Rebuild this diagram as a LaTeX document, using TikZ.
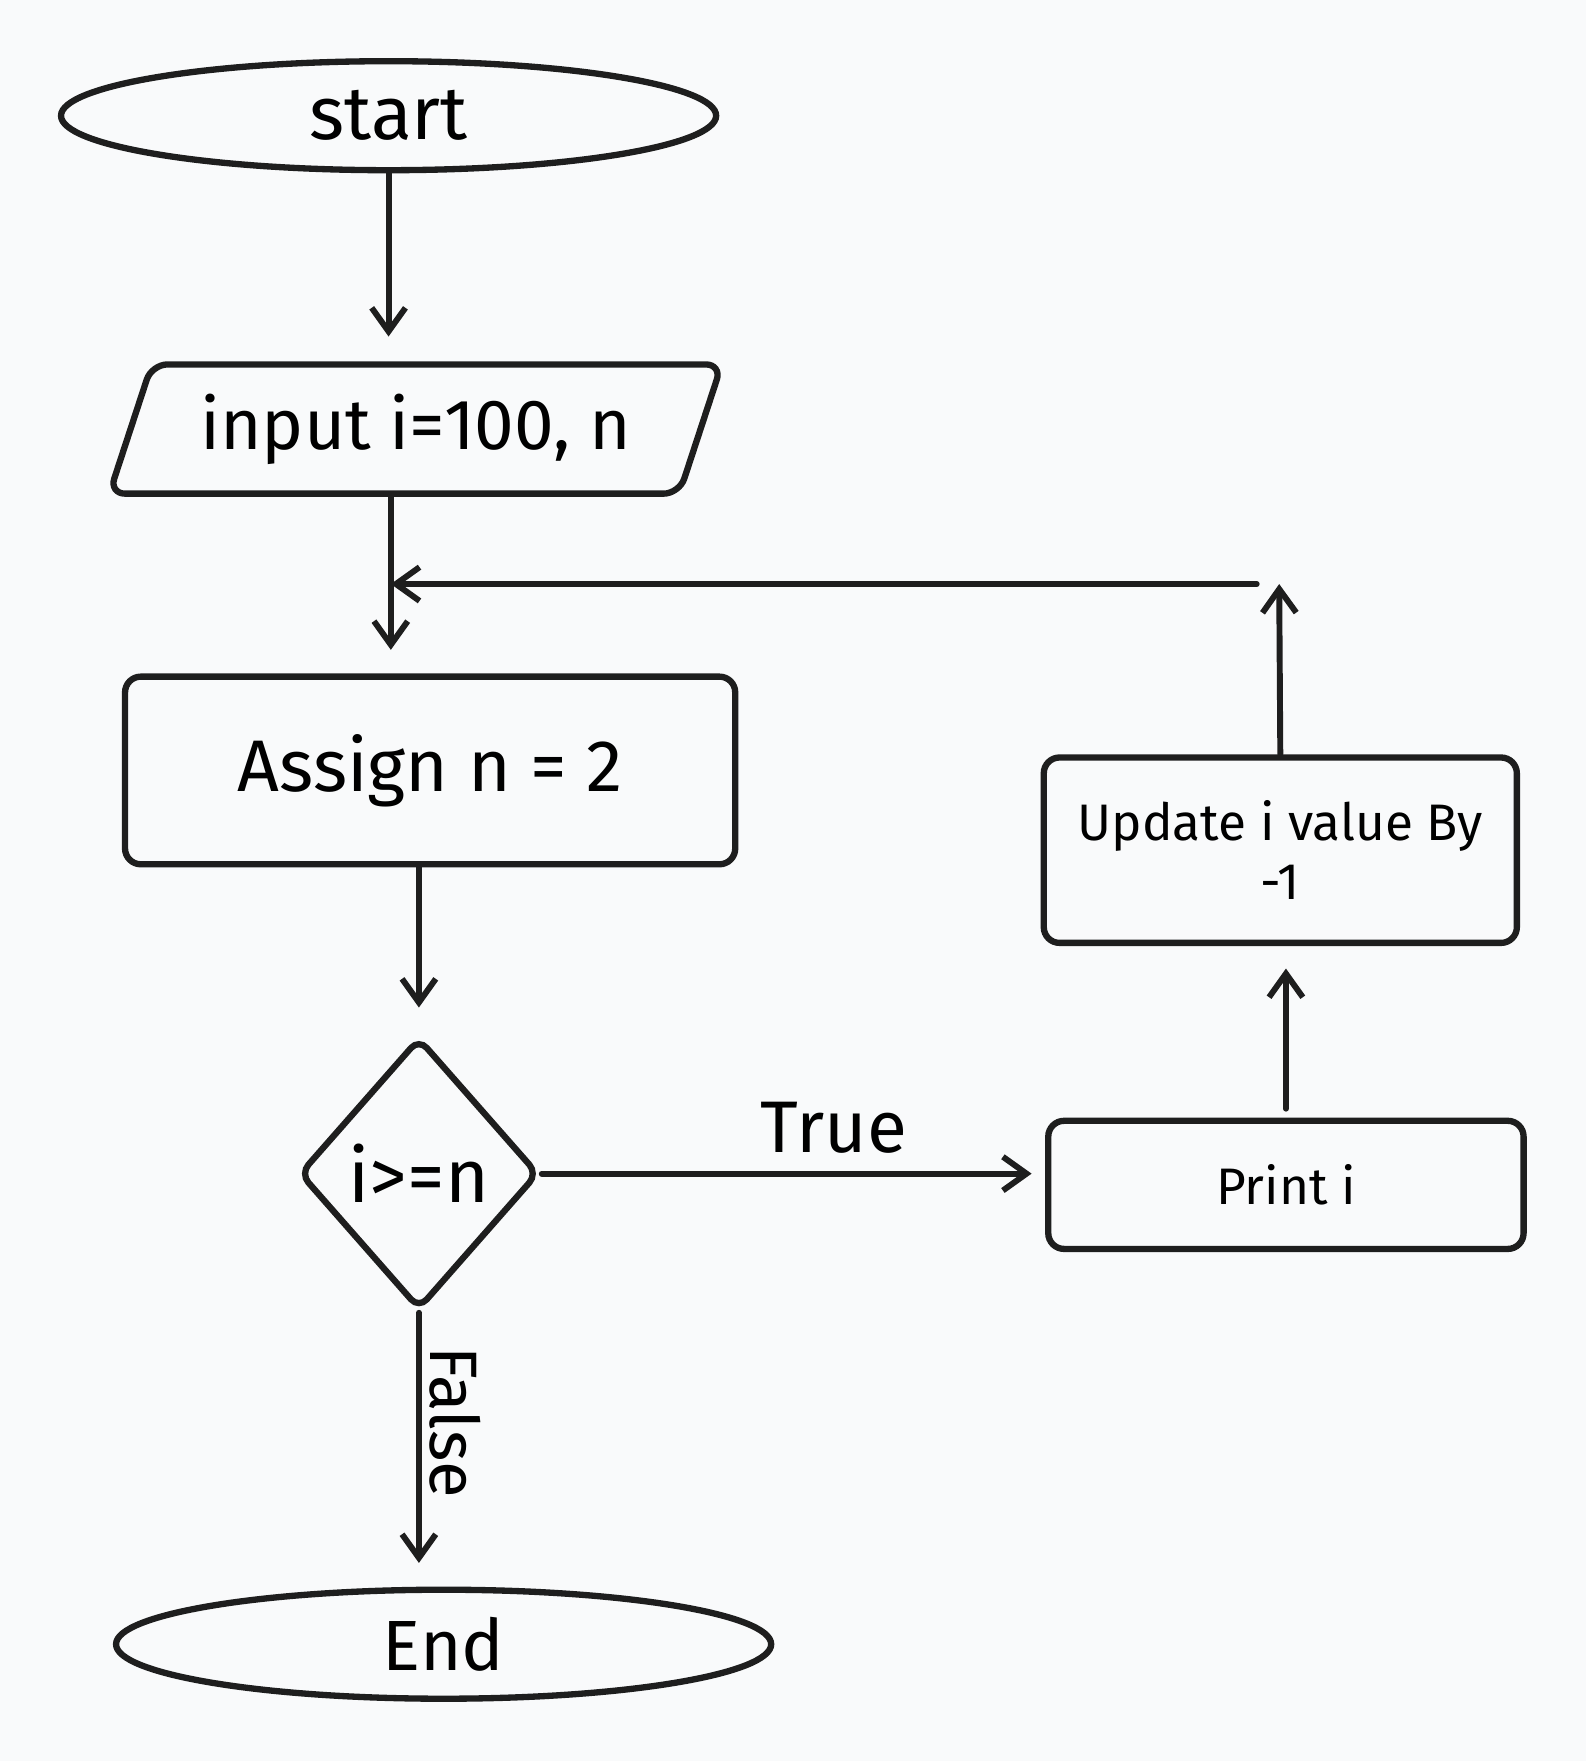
\documentclass[tikz,border=0pt]{standalone}
\usepackage{fontspec}
\setmainfont{Fira Sans}
\usetikzlibrary{shapes.geometric,arrows.meta}
\definecolor{ink}{HTML}{1E1E1E}
\definecolor{paper}{HTML}{F9FAFB}

\begin{document}
\begin{tikzpicture}[x=0.01cm,y=-0.01cm,
    terminal/.style ={ellipse, draw=ink, line width=1.6pt, inner sep=0pt, minimum width=5.83cm, minimum height=0.97cm, font=\fontsize{19}{23}\selectfont},
    inout/.style ={trapezium, trapezium left angle=59, trapezium right angle=121, trapezium stretches body=true, draw=ink, line width=1.6pt, rounded corners=4pt, inner sep=0pt, minimum width=5.45cm, minimum height=1.15cm, font=\fontsize{18}{22}\selectfont},
    process/.style ={rectangle, draw=ink, line width=1.6pt, rounded corners=4pt, inner sep=0pt, align=center},
    decision/.style ={diamond, draw=ink, line width=1.6pt, rounded corners=3pt, inner sep=0pt, minimum width=2.13cm, minimum height=2.42cm, font=\fontsize{19}{23}\selectfont},
    flow/.style ={draw=ink, line width=1.5pt, line cap=round, -{Straight Barb[length=2.1mm,width=3mm]}}]
   \fill[paper] (0,0) rectangle (1412,1568);
   \useasboundingbox (0,0) rectangle (1412,1568);

   \node[terminal] (S) at (346,103) {start};
   \node[inout] (I) at (370,382) {input i=100, n};
   \node[process, minimum width=5.43cm, minimum height=1.67cm, font=\fontsize{18.5}{22}\selectfont] (A) at (383,686) {Assign n = 2};
   \node[decision] (D) at (373,1045) {i>=n};
   \node[process, minimum width=4.23cm, minimum height=1.14cm, font=\fontsize{13}{16}\selectfont] (P) at (1145,1055) {Print i};
   \node[process, minimum width=4.21cm, minimum height=1.65cm, font=\fontsize{13}{15}\selectfont] (U) at (1140,757) {Update i value By\\-1};
   \node[terminal, font=\fontsize{18}{22}\selectfont] (E) at (395,1464) {End};

   \coordinate (J) at (348,520);
   \coordinate (K) at (1139,520);

   \draw[flow, shorten >=0.22cm] (S.south) -- (S.south |- I.north);
   \draw[flow, shorten >=0.21cm] (I.south -| J) -- (A.north -| J);
   \draw[flow, shorten >=0.24cm] (A.south -| D.north) -- (D.north);
   \draw[flow, shorten >=0.12cm] (D.east) -- (P.west |- D.east)
      node[pos=0.58, above=1pt, font=\fontsize{18.5}{22}\selectfont] (T) {True};
   \draw[flow, shorten >=0.21cm] (D.south) -- (D.south |- E.north)
      node[pos=0.4, rotate=-90, anchor=south, inner sep=2pt, font=\fontsize{17}{20}\selectfont] (F) {False};
   \draw[flow, shorten <=0.08cm, shorten >=0.2cm] (P.north) -- (P.north |- U.south);
   \draw[flow] (U.north) -- (K);
   \draw[flow, shorten <=0.2cm] (K) -- (J);
 \end{tikzpicture}
\end{document}
